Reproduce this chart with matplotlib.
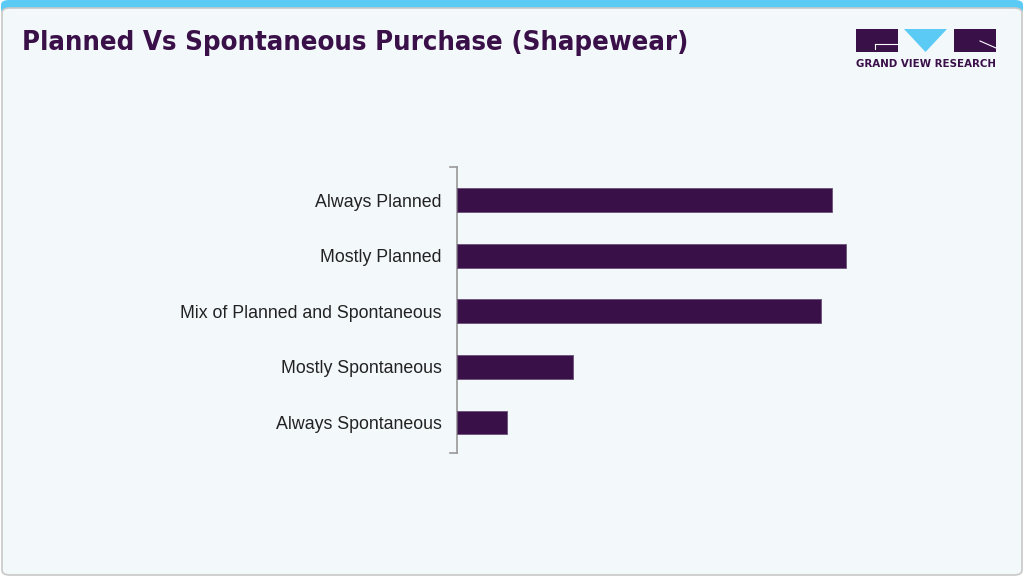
import matplotlib
matplotlib.use("Agg")
import matplotlib.pyplot as plt
from matplotlib.patches import FancyBboxPatch, Rectangle, Polygon

categories = ["Always Planned", "Mostly Planned", "Mix of Planned and Spontaneous",
              "Mostly Spontaneous", "Always Spontaneous"]
values = [37.5, 38.9, 36.4, 11.6, 5.0]

W, H = 1025, 577
fig = plt.figure(figsize=(W / 100, H / 100), dpi=100)
fig.patch.set_facecolor("white")

def fx(px):
    return px / W

def fy(py):
    return 1 - py / H

# top blue band
band = FancyBboxPatch((fx(1), fy(14)), fx(1023) - fx(1), fy(0) - fy(14),
                      boxstyle="round,pad=0,rounding_size=0.008", transform=fig.transFigure,
                      facecolor="#5BCBF5", edgecolor="none", zorder=-2)
fig.patches.append(band)
# card
card = FancyBboxPatch((fx(2), fy(575)), fx(1022) - fx(2), fy(8) - fy(575),
                      boxstyle="round,pad=0,rounding_size=0.008", transform=fig.transFigure,
                      facecolor="#F3F8FB", edgecolor="#C8C8C8", linewidth=1.2, zorder=-1)
fig.patches.append(card)

purple = "#3A1049"
fig.text(fx(22), fy(43), "Planned Vs Spontaneous Purchase (Shapewear)",
         fontsize=19.7, fontweight="bold", fontstretch="condensed", color=purple,
         va="center", ha="left", family="DejaVu Sans")

# logo
fig.patches.append(Rectangle((fx(856), fy(52)), fx(42), fy(0) - fy(23), transform=fig.transFigure,
                             facecolor=purple, edgecolor="none"))
fig.patches.append(Polygon([(fx(904), fy(29)), (fx(947), fy(29)), (fx(925.5), fy(52))],
                           closed=True, transform=fig.transFigure, facecolor="#5BCBF5", edgecolor="none"))
fig.patches.append(Rectangle((fx(954), fy(52)), fx(42), fy(0) - fy(23), transform=fig.transFigure,
                             facecolor=purple, edgecolor="none"))
fig.lines.append(plt.Line2D([fx(875), fx(898)], [fy(44), fy(44)], transform=fig.transFigure,
                            color="white", linewidth=0.8))
fig.lines.append(plt.Line2D([fx(875), fx(875)], [fy(44), fy(49)], transform=fig.transFigure,
                            color="white", linewidth=0.8))
fig.lines.append(plt.Line2D([fx(980), fx(996)], [fy(41), fy(48)], transform=fig.transFigure,
                            color="white", linewidth=0.8))
fig.text(fx(926), fy(64), "GRAND VIEW RESEARCH", fontsize=7.4, fontweight="bold", color=purple,
         ha="center", va="center")

# chart axes
ax_left, ax_right = 457, 900
ax_top, ax_bot = 167, 453
ax = fig.add_axes([fx(ax_left), fy(ax_bot), fx(ax_right - ax_left), (ax_bot - ax_top) / H])
ax.set_facecolor("none")
y = list(range(len(categories)))
ax.barh(y, values, height=0.43, color=purple, edgecolor="#6A5078", linewidth=0.6, zorder=3)
ax.set_ylim(4.55, -0.6)
ax.set_xlim(0, (ax_right - ax_left) / 10)
ax.set_yticks(y)
ax.set_yticklabels(categories, fontsize=12.8, color="#222222", family="Liberation Sans")
ax.tick_params(axis="y", length=0, pad=11)
ax.set_xticks([])
for s in ["top", "right", "bottom"]:
    ax.spines[s].set_visible(False)
ax.spines["left"].set_color("#999999")
ax.spines["left"].set_linewidth(1.2)
# end caps of the bracket
for py in (ax_top, ax_bot):
    fig.lines.append(plt.Line2D([fx(450), fx(457)], [fy(py), fy(py)], transform=fig.transFigure,
                                color="#999999", linewidth=1.2))

fig.savefig("out.png", dpi=100, facecolor=fig.get_facecolor())
